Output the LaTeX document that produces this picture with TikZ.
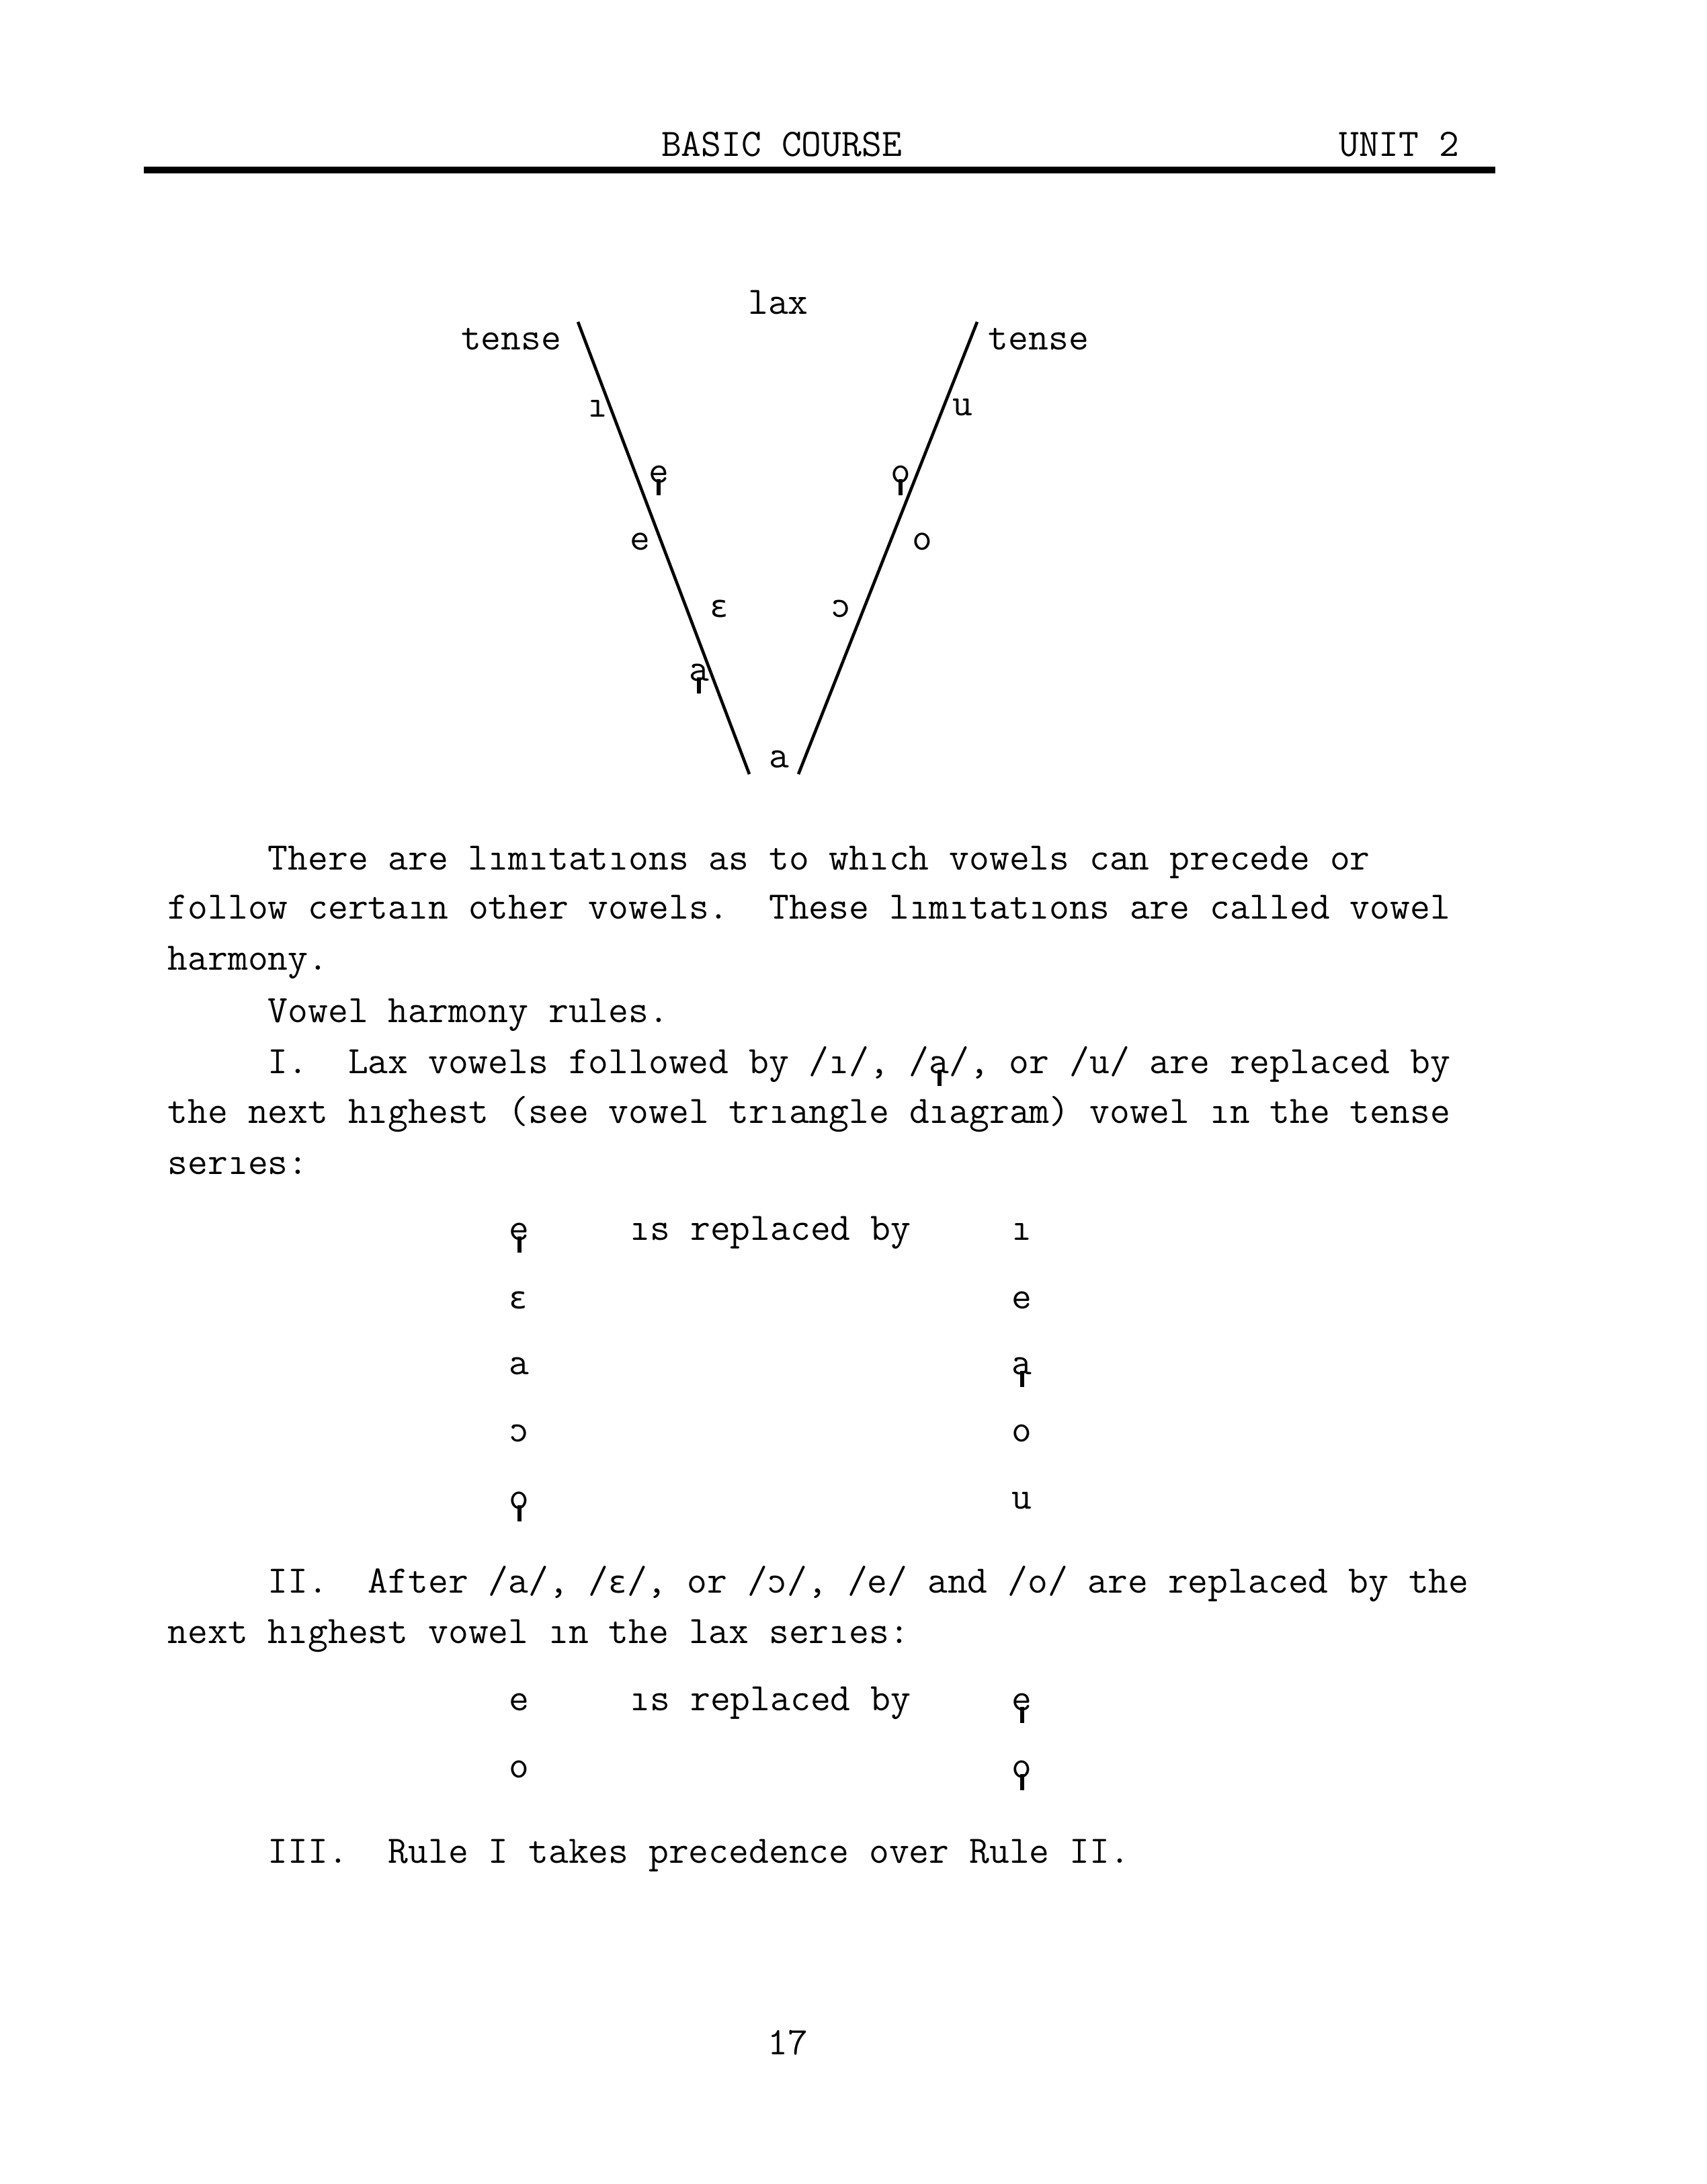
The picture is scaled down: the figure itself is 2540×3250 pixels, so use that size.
\documentclass[tikz,border=0pt]{standalone}
\usepackage{fontspec}
\usepackage{graphicx}
\usetikzlibrary{positioning}

\newfontfamily\ipafont[Scale=MatchLowercase]{DejaVu Sans Mono}
\newcommand\tw{\fontsize{13.95}{18}\selectfont\ttfamily\frenchspacing}
\newcommand\stemv[1]{\mbox{\ooalign{#1\cr\hidewidth\rule[-0.33em]{0.1em}{0.42em}\hidewidth\cr}}}
\newcommand\epsv{{\ipafont ɛ}}
\newcommand\openo{\reflectbox{c}}

\tikzset{
  line/.style={anchor=base west,inner sep=0pt,font=\tw},
  vowel/.style={anchor=base,inner sep=0pt,font=\tw},
  side/.style={draw,line width=1.1pt},
}

\begin{document}
\begin{tikzpicture}[x=0.240945pt,y=-0.240945pt]

  \path [fill=white,use as bounding box] (0,0) rectangle (2540,3250);

  % running head
  \node [vowel] (course) at (1163,232) {BASIC COURSE};
  \node [vowel,anchor=base east] (unit) at (2172,232) {UNIT 2};
  \coordinate (rule_l) at (214,253);
  \coordinate (rule_r) at (2225,253);
  \path [draw,line width=2.3pt] (rule_l) -- (rule_r);

  % vowel triangle
  \coordinate (l_top) at (860,479);
  \coordinate (l_bot) at (1115,1152);
  \coordinate (r_top) at (1454,479);
  \coordinate (r_bot) at (1188,1152);
  \path [side] (l_top) -- (l_bot);
  \path [side] (r_top) -- (r_bot);

  \node [vowel] (lax) at (1158,467) {lax};
  \node [line,anchor=base east] (tense_l) at (836,520) {tense};
  \node [line] (tense_r) at (1470,520) {tense};

  \node [vowel] (v_i) at (889,620) {ı};
  \node [vowel] (v_es) at (980,718) {\stemv{e}};
  \node [vowel] (v_e) at (952,818) {e};
  \node [vowel] (v_eps) at (1070,918) {\epsv};
  \node [vowel] (v_as) at (1040,1013) {\stemv{a}};
  \node [vowel] (v_a) at (1159,1142) {a};
  \node [vowel] (v_u) at (1432,618) {u};
  \node [vowel] (v_os) at (1340,718) {\stemv{o}};
  \node [vowel] (v_o) at (1372,818) {o};
  \node [vowel] (v_oo) at (1252,918) {\openo};

  % text
  \node [line] (p1) at (398,1294) {There are lımıtatıons as to whıch vowels can precede or};
  \node [line] (p2) at (249,1367) {follow certaın other vowels.\ \ These lımıtatıons are called vowel};
  \node [line] (p3) at (249,1443) {harmony.};
  \node [line] (p4) at (398,1521) {Vowel harmony rules.};
  \node [line] (r1a) at (398,1597) {I.\ \ Lax vowels followed by /ı/, /\stemv{a}/, or /u/ are replaced by};
  \node [line] (r1b) at (249,1671) {the next hıghest (see vowel trıangle dıagram) vowel ın the tense};
  \node [line] (r1c) at (249,1747) {serıes:};

  \node [line] (t1_l1) at (757,1845) {\stemv{e}};
  \node [line] (t1_m) at (937,1845) {ıs replaced by};
  \node [line] (t1_r1) at (1505,1845) {ı};
  \node [line] (t1_l2) at (757,1947) {\epsv};
  \node [line] (t1_r2) at (1505,1947) {e};
  \node [line] (t1_l3) at (757,2045) {a};
  \node [line] (t1_r3) at (1505,2045) {\stemv{a}};
  \node [line] (t1_l4) at (757,2145) {\openo};
  \node [line] (t1_r4) at (1505,2145) {o};
  \node [line] (t1_l5) at (757,2245) {\stemv{o}};
  \node [line] (t1_r5) at (1505,2245) {u};

  \node [line] (r2a) at (398,2370) {II.\ \ After /a/, /\epsv/, or /\openo/, /e/ and /o/ are replaced by the};
  \node [line] (r2b) at (249,2445) {next hıghest vowel ın the lax serıes:};

  \node [line] (t2_l1) at (757,2545) {e};
  \node [line] (t2_m) at (937,2545) {ıs replaced by};
  \node [line] (t2_r1) at (1505,2545) {\stemv{e}};
  \node [line] (t2_l2) at (757,2645) {o};
  \node [line] (t2_r2) at (1505,2645) {\stemv{o}};

  \node [line] (r3) at (398,2772) {III.\ \ Rule I takes precedence over Rule II.};

  \node [vowel] (folio) at (1172,3057) {17};

\end{tikzpicture}
\end{document}
